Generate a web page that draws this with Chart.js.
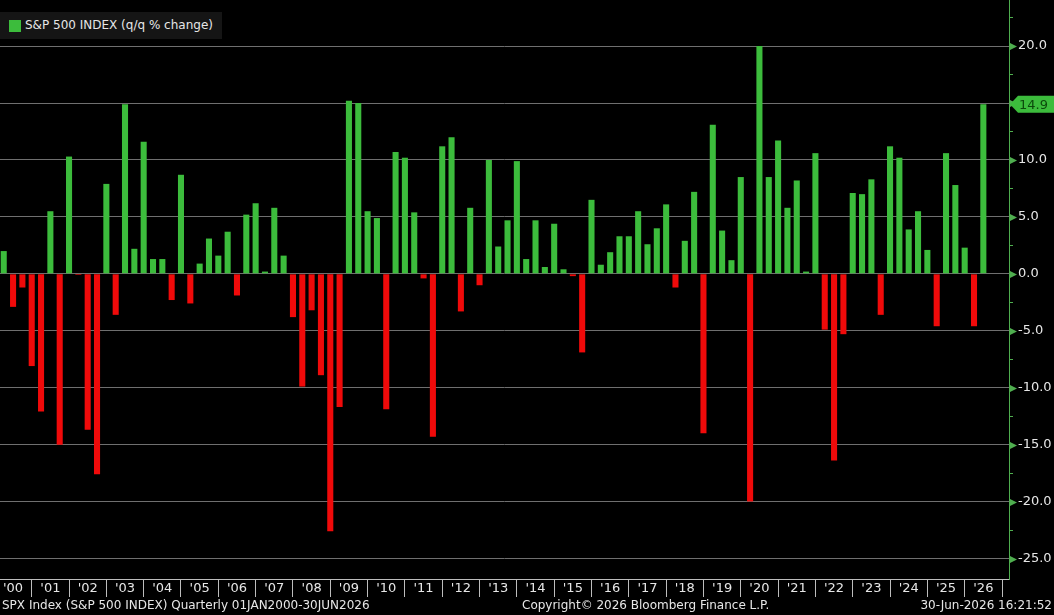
<!DOCTYPE html>
<html>
  <head>
    <meta charset="UTF-8" />
    <title>S&amp;P 500 INDEX (q/q % change)</title>
    <script src="https://cdn.jsdelivr.net/npm/chart.js"></script>
    <style>
      body {
        margin: 0;
        background: #000;
        font-family: "DejaVu Sans", sans-serif;
        color: #e6e6e6;
        overflow: hidden;
      }
      .wrap {
        position: relative;
        width: 1054px;
        height: 615px;
      }
      canvas {
        position: absolute;
        left: 0;
        top: 0;
      }
      .legend {
        position: absolute;
        left: 0;
        top: 12px;
        width: 222px;
        height: 27px;
        background: #151515;
        font-size: 12px;
        line-height: 27px;
      }
      .legend i {
        position: absolute;
        left: 9px;
        top: 8px;
        width: 12px;
        height: 12px;
        background: #3cbc3c;
      }
      .legend span {
        position: absolute;
        left: 25px;
      }
      .foot {
        position: absolute;
        top: 598px;
        font-size: 12px;
        white-space: nowrap;
      }
    </style>
  </head>
  <body>
    <div class="wrap">
      <canvas id="spx" width="1054" height="615"></canvas>
      <div class="legend"><i></i><span>S&amp;P 500 INDEX (q/q % change)</span></div>
      <div class="foot" style="left: 2px">SPX Index (S&amp;P 500 INDEX) Quarterly 01JAN2000-30JUN2026</div>
      <div class="foot" style="left: 522px">Copyright© 2026 Bloomberg Finance L.P.</div>
      <div class="foot" style="right: 2px">30-Jun-2026 16:21:52</div>
    </div>

    <script>
      // quarterly % change, Q1 2000 .. Q2 2026
      const years = [2000, 2001, 2002, 2003, 2004, 2005, 2006, 2007, 2008, 2009,
        2010, 2011, 2012, 2013, 2014, 2015, 2016, 2017, 2018, 2019, 2020, 2021,
        2022, 2023, 2024, 2025, 2026];
      const q1 = [2.0, -12.1, -0.1, -3.6, 1.3, -2.6, 3.7, 0.2, -9.9, -11.7, 4.9, 5.4,
        12.0, 10.0, 1.3, 0.4, 0.8, 5.5, -1.2, 13.1, -20.0, 5.8, -4.9, 7.0, 10.2, -4.6, -4.6];
      const q2 = [-2.9, 5.5, -13.7, 14.9, 1.3, 0.9, -1.9, 5.8, -3.2, 15.2, -11.9, -0.4,
        -3.3, 2.4, 4.7, -0.2, 1.9, 2.6, 2.9, 3.8, 20.0, 8.2, -16.4, 8.3, 3.9, 10.6, 14.9];
      const q3 = [-1.2, -15.0, -17.6, 2.2, -2.3, 3.1, 5.2, 1.6, -8.9, 15.0, 10.7, -14.3,
        5.8, 4.7, 0.6, -6.9, 3.3, 4.0, 7.2, 1.2, 8.5, 0.2, -5.3, -3.6, 5.5, 7.8];
      const q4 = [-8.1, 10.3, 7.9, 11.6, 8.7, 1.6, 6.2, -3.8, -22.6, 5.5, 10.2, 11.2,
        -1.0, 9.9, 4.4, 6.5, 3.3, 6.1, -14.0, 8.5, 11.7, 10.6, 7.1, 11.2, 2.1, 2.3];
      const yTicks = [-25, -22.5, -20, -17.5, -15, -12.5, -10, -7.5, -5, -2.5, 0,
        2.5, 5, 7.5, 10, 12.5, 15, 17.5, 20, 22.5];

      const GREEN = "#3cbc3c";
      const RED = "#f00a0a";
      const AXIS_GREEN = "#4fae4f";

      const values = [];
      years.forEach((y, k) => {
        [q1, q2, q3, q4].forEach((q) => {
          if (q[k] !== undefined) values.push(q[k]);
        });
      });
      const points = values.map((v, i) => ({ x: i, y: v }));
      const lastValue = values[values.length - 1];

      const axisMarks = {
        id: "axisMarks",
        afterDraw(chart) {
          const ctx = chart.ctx;
          const ys = chart.scales.y;
          const x0 = ys.left;
          ctx.save();
          // arrow markers on major ticks
          ctx.fillStyle = AXIS_GREEN;
          yTicks.forEach((t) => {
            if (t % 5 !== 0) return;
            const py = Math.round(ys.getPixelForValue(t)) + 0.5;
            ctx.beginPath();
            ctx.moveTo(x0 + 1, py - 3.5);
            ctx.lineTo(x0 + 8, py);
            ctx.lineTo(x0 + 1, py + 3.5);
            ctx.closePath();
            ctx.fill();
          });
          // last value callout
          const py = ys.getPixelForValue(lastValue);
          ctx.fillStyle = GREEN;
          ctx.beginPath();
          ctx.moveTo(x0 + 1, py);
          ctx.lineTo(x0 + 9, py - 8.5);
          ctx.lineTo(1054, py - 8.5);
          ctx.lineTo(1054, py + 8.5);
          ctx.lineTo(x0 + 9, py + 8.5);
          ctx.closePath();
          ctx.fill();
          ctx.fillStyle = "#0c4a0c";
          ctx.font = "13px 'DejaVu Sans'";
          ctx.textBaseline = "middle";
          ctx.fillText(lastValue.toFixed(1), x0 + 10, py + 1);
          ctx.restore();
        },
      };

      new Chart(document.getElementById("spx"), {
        type: "bar",
        data: {
          datasets: [
            {
              label: "S&P 500 INDEX (q/q % change)",
              data: points,
              backgroundColor: values.map((v) => (v >= 0 ? GREEN : RED)),
              borderWidth: 0,
              barPercentage: 0.65,
              categoryPercentage: 1,
            },
          ],
        },
        options: {
          responsive: false,
          animation: false,
          layout: { padding: 0 },
          plugins: {
            legend: { display: false },
            tooltip: { enabled: false },
          },
          scales: {
            x: {
              type: "linear",
              offset: false,
              min: -0.4,
              max: 107.75,
              afterBuildTicks: (scale) => {
                const t = [];
                for (let v = 1; v <= 107; v += 2) t.push({ value: v });
                scale.ticks = t;
              },
              afterFit: (scale) => {
                scale.height = 36;
                scale.paddingLeft = 0;
                scale.paddingRight = 0;
              },
              grid: {
                drawOnChartArea: false,
                offset: false,
                tickLength: 18,
                tickColor: (c) =>
                  c.tick && c.tick.value % 4 === 3 ? "#bdbdbd" : "transparent",
              },
              border: { display: true, color: "#bdbdbd" },
              ticks: {
                autoSkip: false,
                maxRotation: 0,
                padding: -16,
                color: "#e6e6e6",
                font: { family: "DejaVu Sans", size: 13 },
                callback: (v) =>
                  v % 4 === 1 ? "'" + String(2000 + (v - 1) / 4).slice(2) : "",
              },
            },
            y: {
              position: "right",
              min: -26.8,
              max: 24.05,
              afterBuildTicks: (scale) => {
                scale.ticks = yTicks.map((v) => ({ value: v }));
              },
              afterFit: (scale) => {
                scale.width = 45;
                scale.paddingTop = 0;
                scale.paddingBottom = 0;
              },
              grid: {
                color: (c) =>
                  c.tick && c.tick.value % 5 === 0 ? "#6f6f6f" : "transparent",
                tickLength: 4,
                tickColor: AXIS_GREEN,
              },
              border: { display: true, color: AXIS_GREEN },
              ticks: {
                padding: 5,
                color: "#e6e6e6",
                font: { family: "DejaVu Sans", size: 13 },
                callback: (v) => (v % 5 === 0 ? v.toFixed(1) : ""),
              },
            },
          },
        },
        plugins: [axisMarks],
      });
    </script>
  </body>
</html>
